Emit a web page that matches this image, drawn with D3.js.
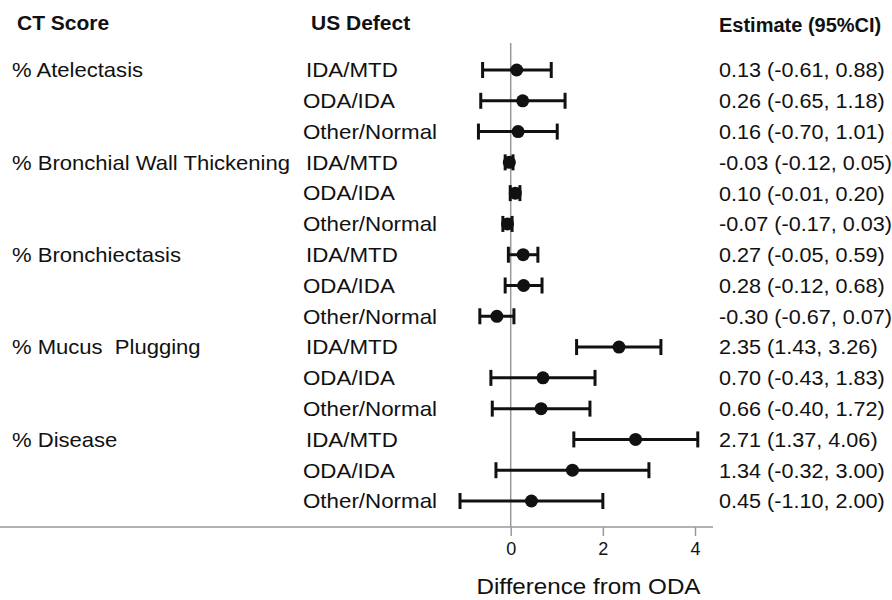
<!DOCTYPE html>
<html>
<head>
<meta charset="utf-8">
<script src="https://cdn.jsdelivr.net/npm/d3@7/dist/d3.min.js"></script>
<style>
  html, body { margin: 0; padding: 0; background: #fff; }
  svg { display: block; }
  text { font-family: "Liberation Sans", Arial, sans-serif; fill: #111; }
</style>
</head>
<body>
<svg id="chart" width="892" height="600"></svg>
<script>
const categories = ["% Atelectasis", "% Bronchial Wall Thickening", "% Bronchiectasis", "% Mucus  Plugging", "% Disease"];
const subgroups = ["IDA/MTD", "ODA/IDA", "Other/Normal"];
const estimates = [0.13, 0.26, 0.16, -0.03, 0.10, -0.07, 0.27, 0.28, -0.30, 2.35, 0.70, 0.66, 2.71, 1.34, 0.45];
const lower     = [-0.61, -0.65, -0.70, -0.12, -0.01, -0.17, -0.05, -0.12, -0.67, 1.43, -0.43, -0.40, 1.37, -0.32, -1.10];
const upper     = [0.88, 1.18, 1.01, 0.05, 0.20, 0.03, 0.59, 0.68, 0.07, 3.26, 1.83, 1.72, 4.06, 3.00, 2.00];
const xTicks = [0, 2, 4];
const headers = ["CT Score", "US Defect", "Estimate (95%CI)"];
const xTitle = "Difference from ODA";

const rows = [];
categories.forEach((c, ci) => subgroups.forEach((s, si) => {
  const i = ci * subgroups.length + si;
  rows.push({cat: si === 0 ? c : "", sub: s, est: estimates[i], lo: lower[i], hi: upper[i], idx: i});
}));

const svg = d3.select("#chart");
const x = d3.scaleLinear().domain([0, 4]).range([510.7, 695]);
const y = d3.scaleLinear().domain([0, rows.length - 1]).range([70, 501]);
const fmt = v => v.toFixed(2);

// headers
const hx = [17, 311, 719];
const hsz = [21, 21, 20];
svg.selectAll("text.hdr").data(headers).join("text")
  .attr("class", "hdr")
  .attr("transform", (d, i) => `translate(${hx[i]},${i === 2 ? 25 : 23})`)
  .attr("dy", "0.35em")
  .style("font-weight", "bold").style("font-size", (d, i) => hsz[i] + "px")
  .text(d => d);

// category labels
svg.selectAll("text.cat").data(rows.filter(r => r.cat)).join("text")
  .attr("class", "cat")
  .attr("transform", d => `translate(12,${y(d.idx)}) scale(1.05,1)`)
  .attr("dy", "0.35em")
  .attr("xml:space", "preserve").style("white-space", "pre")
  .style("font-size", "21px")
  .text(d => d.cat);

// subgroup labels
svg.selectAll("text.sub").data(rows).join("text")
  .attr("class", "sub")
  .attr("transform", d => `translate(${d.sub === "IDA/MTD" ? 306 : 303},${y(d.idx)}) scale(1.064,1)`)
  .attr("dy", "0.35em")
  .style("font-size", "21px")
  .text(d => d.sub);

// estimate labels
svg.selectAll("text.est").data(rows).join("text")
  .attr("class", "est")
  .attr("transform", d => `translate(719,${y(d.idx)}) scale(1.03,1)`)
  .attr("dy", "0.35em")
  .style("font-size", "21px")
  .text(d => `${fmt(d.est)} (${fmt(d.lo)}, ${fmt(d.hi)})`);

// axis line
const axisY = 527;
svg.append("line").attr("x1", 0).attr("x2", 713).attr("y1", axisY).attr("y2", axisY)
  .attr("stroke", "#999").attr("stroke-width", 1.5);

// reference line at 0
svg.append("line").attr("x1", x(0)).attr("x2", x(0)).attr("y1", 43).attr("y2", axisY)
  .attr("stroke", "#999").attr("stroke-width", 1.5);

// axis ticks
const axis = d3.axisBottom(x).tickValues(xTicks).tickSize(9).tickPadding(6).tickFormat(d3.format("d"));
const ag = svg.append("g").attr("transform", `translate(0,${axisY})`).call(axis);
ag.select(".domain").remove();
ag.selectAll(".tick line").attr("stroke", "#999").attr("stroke-width", 1.5);
ag.selectAll(".tick text").style("font-size", "18px").style("font-family", "'Liberation Sans', Arial, sans-serif").attr("fill", "#111");

// x title
svg.append("text").attr("transform", "translate(588.5,594) scale(1.1,1)").attr("text-anchor", "middle")
  .style("font-size", "22px").text(xTitle);

// error bars
const g = svg.append("g");
const capH = 8;
g.selectAll("line.ci").data(rows).join("line").attr("class", "ci")
  .attr("x1", d => x(d.lo)).attr("x2", d => x(d.hi))
  .attr("y1", d => y(d.idx)).attr("y2", d => y(d.idx))
  .attr("stroke", "#111").attr("stroke-width", 3);
g.selectAll("line.capl").data(rows).join("line").attr("class", "capl")
  .attr("x1", d => x(d.lo)).attr("x2", d => x(d.lo))
  .attr("y1", d => y(d.idx) - capH).attr("y2", d => y(d.idx) + capH)
  .attr("stroke", "#111").attr("stroke-width", 3);
g.selectAll("line.caph").data(rows).join("line").attr("class", "caph")
  .attr("x1", d => x(d.hi)).attr("x2", d => x(d.hi))
  .attr("y1", d => y(d.idx) - capH).attr("y2", d => y(d.idx) + capH)
  .attr("stroke", "#111").attr("stroke-width", 3);
g.selectAll("circle.pt").data(rows).join("circle").attr("class", "pt")
  .attr("cx", d => x(d.est)).attr("cy", d => y(d.idx)).attr("r", 6.5)
  .attr("fill", "#111");
</script>
</body>
</html>
